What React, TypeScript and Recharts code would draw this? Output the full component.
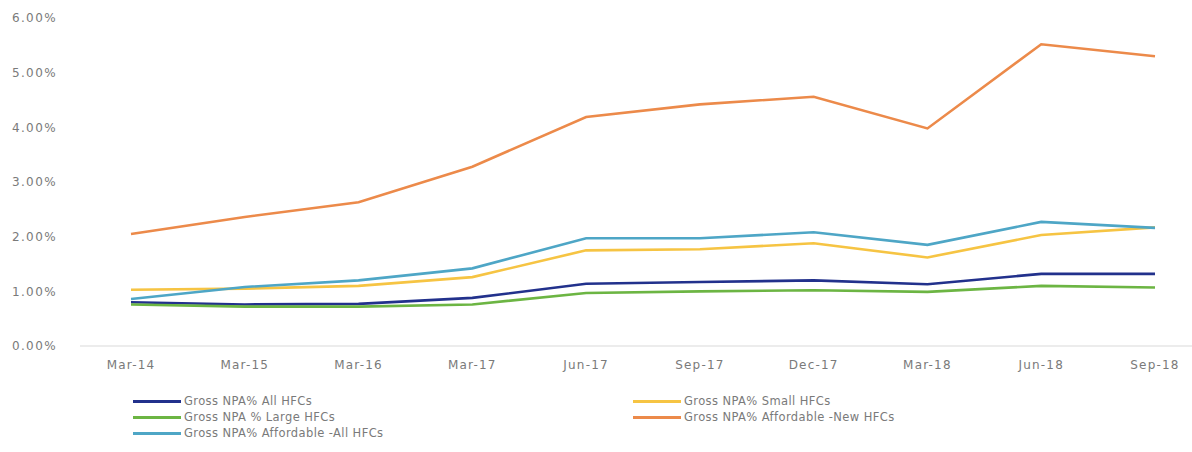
import { CartesianGrid, Line, LineChart, XAxis, YAxis } from 'recharts';

const periods = ['Mar-14', 'Mar-15', 'Mar-16', 'Mar-17', 'Jun-17', 'Sep-17', 'Dec-17', 'Mar-18', 'Jun-18', 'Sep-18'];

const allHfcs = [0.8, 0.76, 0.77, 0.88, 1.14, 1.17, 1.2, 1.13, 1.32, 1.32];
const smallHfcs = [1.03, 1.05, 1.1, 1.26, 1.75, 1.77, 1.88, 1.62, 2.03, 2.17];
const largeHfcs = [0.76, 0.72, 0.72, 0.76, 0.97, 1.0, 1.02, 0.99, 1.1, 1.07];
const affordableNew = [2.05, 2.36, 2.63, 3.28, 4.19, 4.42, 4.56, 3.98, 5.52, 5.3];
const affordableAll = [0.86, 1.08, 1.2, 1.42, 1.97, 1.97, 2.08, 1.85, 2.27, 2.16];

const yTicks = [0, 1, 2, 3, 4, 5, 6];

const series = [
  { key: 'all', name: 'Gross NPA% All HFCs', color: '#22318c', values: allHfcs },
  { key: 'small', name: 'Gross NPA% Small HFCs', color: '#f6c443', values: smallHfcs },
  { key: 'large', name: 'Gross NPA % Large HFCs', color: '#6cb543', values: largeHfcs },
  { key: 'affNew', name: 'Gross NPA% Affordable -New HFCs', color: '#ec8a4a', values: affordableNew },
  { key: 'affAll', name: 'Gross NPA% Affordable -All HFCs', color: '#4ea6c6', values: affordableAll },
];

const data = periods.map((p, i) => {
  const row: Record<string, string | number> = { period: p };
  series.forEach(s => { row[s.key] = s.values[i]; });
  return row;
});

const font = '"DejaVu Sans", sans-serif';
const textColor = '#7a7a7a';

function LegendItem({ name, color }: { name: string; color: string }) {
  return (
    <div style={{ display: 'flex', alignItems: 'center', height: 16 }}>
      <div style={{ width: 48, height: 3, background: color, marginRight: 3 }} />
      <span style={{ fontFamily: font, fontSize: 11.5, color: textColor, letterSpacing: 0.4, whiteSpace: 'nowrap' }}>{name}</span>
    </div>
  );
}

export default function App() {
  return (
    <div style={{ position: 'absolute', left: 0, top: 0, width: 1192, height: 452, background: '#fff' }}>
      <LineChart width={1192} height={452} data={data} margin={{ top: 18, right: 0, left: 0, bottom: 76 }}>
        <CartesianGrid horizontal={false} vertical={false} />
        <XAxis
          dataKey="period"
          scale="point"
          padding={{ left: 51, right: 37 }}
          height={30}
          stroke="#d9d9d9"
          tickLine={false}
          tickSize={0}
          tickMargin={14}
          tick={{ fontFamily: font, fontSize: 12, fill: textColor, letterSpacing: 1.2 }}
        />
        <YAxis
          domain={[0, 6]}
          ticks={yTicks}
          width={80}
          axisLine={false}
          tickLine={false}
          tickSize={0}
          tickMargin={23}
          tickFormatter={v => `${v.toFixed(2)}%`}
          tick={{ fontFamily: font, fontSize: 12, fill: textColor, letterSpacing: 1.4 }}
        />
        {series.map(s => (
          <Line
            key={s.key}
            dataKey={s.key}
            name={s.name}
            stroke={s.color}
            strokeWidth={2.6}
            dot={false}
            type="linear"
            isAnimationActive={false}
          />
        ))}
      </LineChart>
      <div style={{ position: 'absolute', left: 133, top: 393 }}>
        <LegendItem name={series[0].name} color={series[0].color} />
        <LegendItem name={series[2].name} color={series[2].color} />
        <LegendItem name={series[4].name} color={series[4].color} />
      </div>
      <div style={{ position: 'absolute', left: 633, top: 393 }}>
        <LegendItem name={series[1].name} color={series[1].color} />
        <LegendItem name={series[3].name} color={series[3].color} />
      </div>
    </div>
  );
}
